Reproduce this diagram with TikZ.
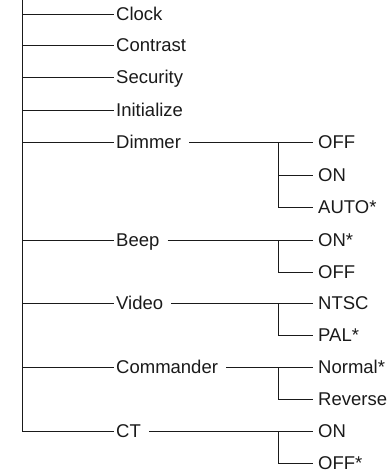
\documentclass[tikz,border=0pt]{standalone}
\usepackage{fontspec}
\setmainfont{Liberation Sans}
\definecolor{menuInk}{HTML}{1A1A1A}
\usetikzlibrary{positioning}
\tikzset{
	opcion/.style={
		anchor=west,
		inner xsep=2pt,
		inner ysep=0pt,
		text height=13pt,
		text depth=0pt,
		font=\fontsize{18.5}{20}\selectfont,
		text=menuInk
	},
	valor/.style={
		opcion,
		inner xsep=5pt
	},
	rama/.style={
		line width=0.8pt,
		draw=menuInk
	},
	hacia/.style={
		rama,
		shorten <=6pt
	}
}

\begin{document}
\begin{tikzpicture}[x=1pt,y=-1pt]
		\useasboundingbox (0,0) rectangle (388,472);
		% primer nivel
		\node[opcion] (clock) at (114,14) {Clock};
		\node[opcion] (contrast) at (114,45) {Contrast};
		\node[opcion] (security) at (114,77) {Security};
		\node[opcion] (initialize) at (114,110) {Initialize};
		\node[opcion] (dimmer) at (114,142) {Dimmer};
		\node[opcion] (beep) at (114,240) {Beep};
		\node[opcion] (video) at (114,303) {Video};
		\node[opcion] (commander) at (114,367) {Commander};
		\node[opcion] (ct) at (114,431) {CT};
		% segundo nivel
		\node[valor] (dimOff) at (313,142) {OFF};
		\node[valor] (dimOn) at (313,175) {ON};
		\node[valor] (dimAuto) at (313,207) {AUTO*};
		\node[valor] (beepOn) at (313,240) {ON*};
		\node[valor] (beepOff) at (313,272) {OFF};
		\node[valor] (vidNtsc) at (313,303) {NTSC};
		\node[valor] (vidPal) at (313,335) {PAL*};
		\node[valor] (cmdNormal) at (313,367) {Normal*};
		\node[valor] (cmdReverse) at (313,399) {Reverse};
		\node[valor] (ctOn) at (313,431) {ON};
		\node[valor] (ctOff) at (313,463) {OFF*};
		% tronco
		\coordinate (tronco) at (22,0);
		\draw[rama] (tronco) |- (ct.west);
		\foreach \n in {clock,contrast,security,initialize,dimmer,beep,video,commander}
			\draw[rama] (tronco |- \n.west) -- (\n.west);
		% ramas
		\coordinate (jDim) at (278,142);
		\coordinate (jBeep) at (278,240);
		\coordinate (jVid) at (278,303);
		\coordinate (jCmd) at (278,367);
		\coordinate (jCt) at (278,431);
		\draw[hacia] (dimmer.east) -- (dimOff.west);
		\draw[rama] (jDim) |- (dimOn.west);
		\draw[rama] (jDim) |- (dimAuto.west);
		\draw[hacia] (beep.east) -- (beepOn.west);
		\draw[rama] (jBeep) |- (beepOff.west);
		\draw[hacia] (video.east) -- (vidNtsc.west);
		\draw[rama] (jVid) |- (vidPal.west);
		\draw[hacia] (commander.east) -- (cmdNormal.west);
		\draw[rama] (jCmd) |- (cmdReverse.west);
		\draw[hacia] (ct.east) -- (ctOn.west);
		\draw[rama] (jCt) |- (ctOff.west);
	\end{tikzpicture}
\end{document}
